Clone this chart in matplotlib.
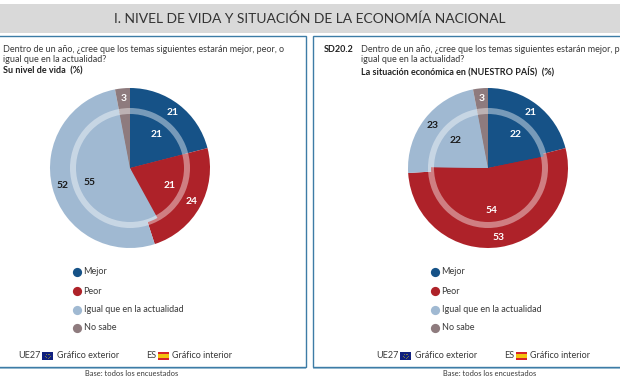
import numpy as np
import matplotlib
matplotlib.use("Agg")
import matplotlib.pyplot as plt
from matplotlib.patches import Rectangle, Wedge

plt.rcParams['font.family'] = ['Lato', 'DejaVu Sans']

# ---- data ----
categories = ["Mejor", "Peor", "Igual que en la actualidad", "No sabe"]
left_outer = [21, 24, 52, 3]
left_inner = [21, 21, 55, 3]
right_outer = [21, 53, 23, 3]
right_inner = [22, 54, 22, 3]
colors = ["#165287", "#ae2229", "#a0b9d2", "#8e7b7e"]
label_colors = ["white", "white", "#1a1a1a", "white"]
title = "I. NIVEL DE VIDA Y SITUACIÓN DE LA ECONOMÍA NACIONAL"
question_1 = "Dentro de un año, ¿cree que los temas siguientes estarán mejor, peor, o"
question_2 = "igual que en la actualidad?"
sub_left = "Su nivel de vida  (%)"
sub_right = "La situación económica en (NUESTRO PAÍS)  (%)"
base = "Base: todos los encuestados"

W, H = 620, 380
TXT = "#3a3a3a"
EDGE = "#3d7ca6"

fig = plt.figure(figsize=(W / 100, H / 100), dpi=100, facecolor="white")
bg = fig.add_axes([0, 0, 1, 1])
bg.set_xlim(0, W)
bg.set_ylim(H, 0)
bg.axis("off")

# title band
bg.add_patch(Rectangle((0, 4), W, 29, fc="#d9d9d9", ec="none"))
bg.text(310, 19, title, ha="center", va="center", fontsize=10.0, color="#333333")

# panels
for x0, x1 in [(-5, 306), (313, W + 5)]:
    bg.add_patch(Rectangle((x0, 367), x1 - x0, 1.6, fc="#a9c6d8", ec="none"))
    bg.add_patch(Rectangle((x0, 36), x1 - x0, 330.5, fc="white", ec=EDGE, lw=1.0))


def draw_pie(cx, cy, outer, inner):
    ax = fig.add_axes([(cx - 85) / W, (H - cy - 85) / H, 170 / W, 170 / H])
    ax.patch.set_alpha(0)
    ax.pie(outer, radius=80, colors=colors, startangle=90, counterclock=False,
           frame=False, wedgeprops=dict(lw=0))
    ax.pie(inner, radius=57, colors=colors, startangle=90, counterclock=False,
           frame=False, wedgeprops=dict(lw=0))
    ax.add_patch(Wedge((0, 0), 60, 0, 360, width=6, fc="white", alpha=0.42, ec="none", zorder=5))
    ax.set_xlim(-85, 85)
    ax.set_ylim(-85, 85)
    ax.set_aspect("equal")
    ax.axis("off")
    for values, r, skip_small in [(outer, 70, False), (inner, 43, True)]:
        total = sum(values)
        cum = 0
        for v, c in zip(values, label_colors):
            mid = (cum + v / 2) / total * 2 * np.pi
            cum += v
            if skip_small and v < 5:
                continue
            ax.text(r * np.sin(mid), r * np.cos(mid), str(v), ha="center", va="center",
                    fontsize=7.4, fontweight="bold", color=c, zorder=6)


draw_pie(130, 168, left_outer, left_inner)
draw_pie(488, 168, right_outer, right_inner)

# question text
QS = 6.45
bg.text(3, 49, question_1, fontsize=QS, color=TXT, va="center")
bg.text(3, 59.5, question_2, fontsize=QS, color=TXT, va="center")
bg.text(3, 71, sub_left, fontsize=QS, color="#222222", fontweight="bold", va="center")
bg.text(324, 49, "SD20.2", fontsize=QS, color="#222222", fontweight="bold", va="center")
bg.text(361, 49, question_1, fontsize=QS, color=TXT, va="center", clip_on=True)
bg.text(361, 59.5, question_2, fontsize=QS, color=TXT, va="center")
bg.text(361, 71, sub_right, fontsize=QS, color="#222222", fontweight="bold", va="center")


def flag_eu(x, y):
    bg.add_patch(Rectangle((x, y), 11, 7.5, fc="#10207f", ec="none"))
    a = np.linspace(0, 2 * np.pi, 8, endpoint=False)
    bg.scatter(x + 5.5 + 2.2 * np.cos(a), y + 3.75 + 2.2 * np.sin(a), s=0.4, c="#8a8a40", lw=0)


def flag_es(x, y):
    bg.add_patch(Rectangle((x, y), 11, 7.5, fc="#d8232a", ec="none"))
    bg.add_patch(Rectangle((x, y + 1.9), 11, 3.7, fc="#f4c20d", ec="none"))


def legend(dx):
    for yy, name, c in zip([272, 291, 310, 328], categories, colors):
        bg.scatter([77 + dx], [yy], s=44, c=c, lw=0)
        bg.text(83.5 + dx, yy, name, fontsize=6.5, color=TXT, va="center")
    bg.text(18 + dx, 356, "UE27", fontsize=6.5, color=TXT, va="center")
    flag_eu(42 + dx, 352)
    bg.text(57 + dx, 356, "Gráfico exterior", fontsize=6.5, color=TXT, va="center")
    bg.text(146 + dx, 356, "ES", fontsize=6.5, color=TXT, va="center")
    flag_es(158 + dx, 352)
    bg.text(172 + dx, 356, "Gráfico interior", fontsize=6.5, color=TXT, va="center")
    bg.text(85 + dx, 373.5, base, fontsize=5.4, color=TXT, va="center")


legend(0)
legend(358)

fig.savefig("out.png", dpi=100)
